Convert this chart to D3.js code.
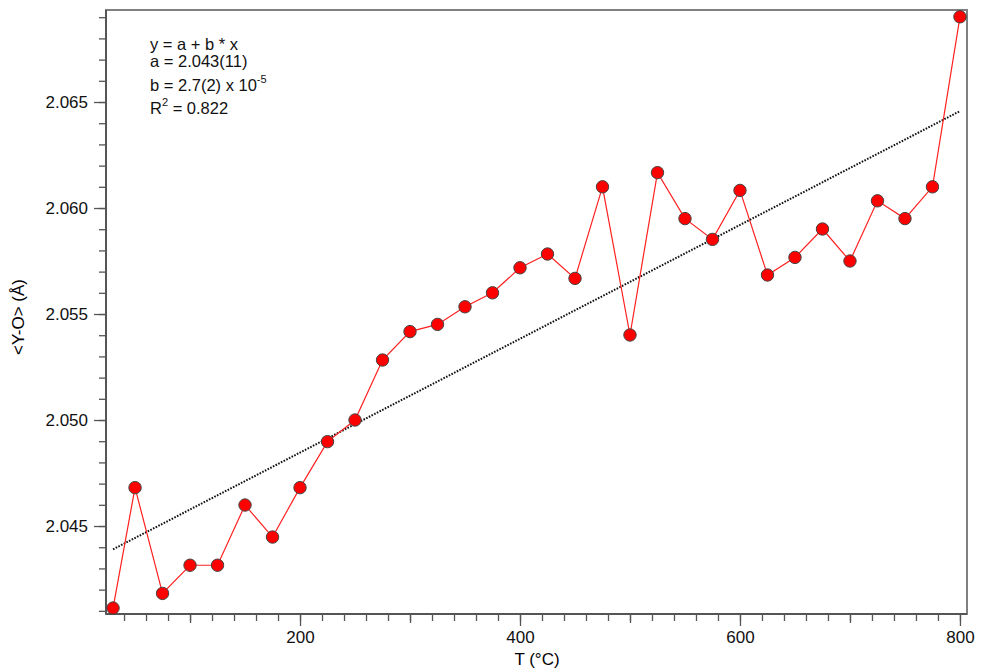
<!DOCTYPE html>
<html>
<head>
<meta charset="utf-8">
<script src="https://cdn.jsdelivr.net/npm/d3@7"></script>
<style>
  body { margin: 0; background: #fff; }
  text { font-family: "Liberation Sans", Arial, Helvetica, sans-serif; }
</style>
</head>
<body>
<script>
// temperature (°C) and mean Y-O distance (Å)
const temps = [30, 50, 75, 100, 125, 150, 175, 200, 225, 250, 275, 300, 325, 350, 375, 400,
  425, 450, 475, 500, 525, 550, 575, 600, 625, 650, 675, 700, 725, 750, 775, 800];
const yoDist = [2.04113, 2.04681, 2.04182, 2.04315, 2.04315, 2.04599, 2.04448, 2.04681,
  2.04898, 2.05000, 2.05283, 2.05417, 2.05451, 2.05534, 2.05600, 2.05718,
  2.05783, 2.05668, 2.06100, 2.05401, 2.06167, 2.05950, 2.05852, 2.06083,
  2.05684, 2.05767, 2.05901, 2.05750, 2.06034, 2.05950, 2.06100, 2.06902];

// linear fit end points
const fitT = [30, 800];
const fitY = [2.04390, 2.06457];

const xMajor = [200, 400, 600, 800];
const xMid = [100, 300, 500, 700];
const xMinor = d3.range(40, 801, 20);
const yMajor = [2.045, 2.050, 2.055, 2.060, 2.065];
const yMinor = d3.range(2041, 2070, 1).map(d => d / 1000);

const fitLines = [
  { main: "y = a + b * x" },
  { main: "a = 2.043(11)" },
  { main: "b = 2.7(2) x 10", sup: "-5", rest: "" },
  { main: "R", sup: "2", rest: " = 0.822" }
];

const margin = { top: 10, right: 17, bottom: 55, left: 106 };
const width = 984 - margin.left - margin.right;
const height = 669 - margin.top - margin.bottom;

const svg = d3.select("body").append("svg")
    .attr("width", 984)
    .attr("height", 669)
  .append("g")
    .attr("transform", `translate(${margin.left},${margin.top})`);

const x = d3.scaleLinear().domain([23.6, 806.4]).range([0, width]);
const y = d3.scaleLinear().domain([2.04085, 2.06934]).range([height, 0]);

// frame
svg.append("rect")
    .attr("width", width)
    .attr("height", height)
    .attr("fill", "none")
    .attr("stroke", "#808080")
    .attr("stroke-width", 2);

function styleAxis(g) {
  g.select(".domain").remove();
  g.selectAll(".tick line").attr("stroke", "#555").attr("stroke-width", 1.3);
  g.selectAll(".tick text").attr("font-size", "17px").attr("fill", "#111")
    .attr("font-family", "'Liberation Sans', Arial, sans-serif");
}

// x axis
svg.append("g").attr("transform", `translate(0,${height})`)
    .call(d3.axisBottom(x).tickValues(xMinor).tickSize(7).tickFormat(""))
    .call(styleAxis);
svg.append("g").attr("transform", `translate(0,${height})`)
    .call(d3.axisBottom(x).tickValues(xMid).tickSize(9).tickFormat(""))
    .call(styleAxis);
svg.append("g").attr("transform", `translate(0,${height})`)
    .call(d3.axisBottom(x).tickValues(xMajor).tickSize(12).tickPadding(5).tickFormat(d3.format("d")))
    .call(styleAxis);

// y axis
svg.append("g")
    .call(d3.axisLeft(y).tickValues(yMinor).tickSize(7).tickFormat(""))
    .call(styleAxis);
svg.append("g")
    .call(d3.axisLeft(y).tickValues(yMajor).tickSize(12).tickPadding(6).tickFormat(d3.format(".3f")))
    .call(styleAxis);

// axis lines (left and bottom darker)
svg.append("line").attr("x1", 0).attr("x2", 0).attr("y1", 0).attr("y2", height)
    .attr("stroke", "#555").attr("stroke-width", 2);
svg.append("line").attr("x1", 0).attr("x2", width).attr("y1", height).attr("y2", height)
    .attr("stroke", "#555").attr("stroke-width", 2);

// axis titles
svg.append("text")
    .attr("x", 431)
    .attr("y", height + 51)
    .attr("text-anchor", "middle")
    .attr("font-size", "17px")
    .text("T (°C)");

svg.append("text")
    .attr("transform", "rotate(-90)")
    .attr("x", -307)
    .attr("y", -82)
    .attr("text-anchor", "middle")
    .attr("font-size", "17px")
    .text("<Y-O> (Å)");

// fit line
svg.append("line")
    .attr("x1", x(fitT[0])).attr("y1", y(fitY[0]))
    .attr("x2", x(fitT[1])).attr("y2", y(fitY[1]))
    .attr("stroke", "#111")
    .attr("stroke-width", 2)
    .attr("stroke-dasharray", "1.6,1.4");

// data line + markers
const pts = temps.map((t, i) => ({ t, v: yoDist[i] }));

svg.append("path")
    .datum(pts)
    .attr("fill", "none")
    .attr("stroke", "#ff2020")
    .attr("stroke-width", 1.2)
    .attr("d", d3.line().x(d => x(d.t)).y(d => y(d.v)));

svg.selectAll("circle")
    .data(pts)
    .enter()
    .append("circle")
    .attr("cx", d => x(d.t))
    .attr("cy", d => y(d.v))
    .attr("r", 6.2)
    .attr("fill", "#ff0000")
    .attr("stroke", "#444")
    .attr("stroke-width", 1);

// fit annotation
const baselines = [40, 57, 80.5, 103.5];
fitLines.forEach((l, i) => {
  const t = svg.append("text")
      .attr("x", 44)
      .attr("y", baselines[i])
      .attr("font-size", "16.5px")
      .attr("fill", "#111");
  t.append("tspan").text(l.main);
  if (l.sup) {
    t.append("tspan").attr("dy", -8).attr("font-size", "11px").text(l.sup);
    t.append("tspan").attr("dy", 8).text(l.rest);
  }
});
</script>
</body>
</html>
